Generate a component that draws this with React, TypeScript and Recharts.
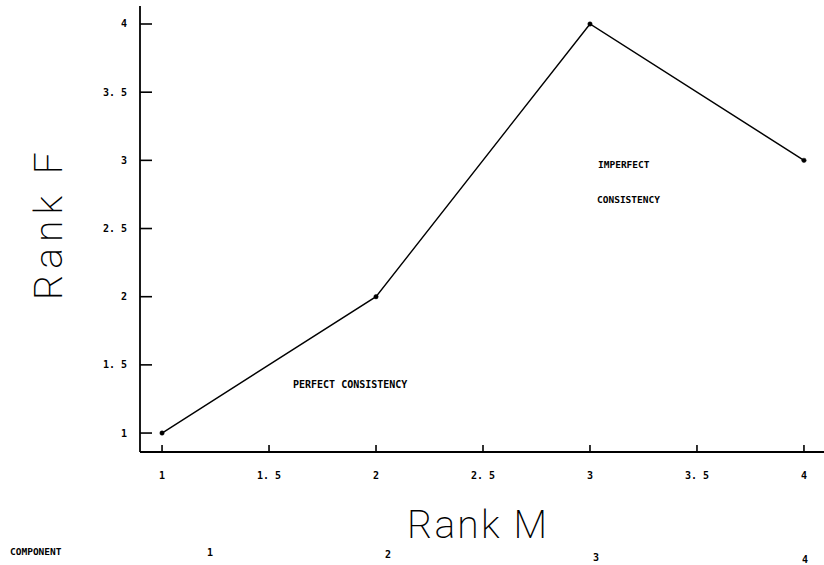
import React from 'react';
import { LineChart, Line, XAxis, YAxis } from 'recharts';

const componentIds = [1, 2, 3, 4];
const rankM = [1, 2, 3, 4];
const rankF = [1, 2, 4, 3];
const xTicks = [1, 1.5, 2, 2.5, 3, 3.5, 4];
const yTicks = [1, 1.5, 2, 2.5, 3, 3.5, 4];
const xTitle = 'Rank M';
const yTitle = 'Rank F';
const rowTitle = 'COMPONENT';
const noteLow = ['PERFECT CONSISTENCY'];
const noteHigh = ['IMPERFECT', 'CONSISTENCY'];

const data = rankM.map((m, i) => ({ m, f: rankF[i] }));

const fmt = (v: number) => String(v).replace('.', '. ');
const LBL = { fontFamily: '"DejaVu Sans Mono", monospace', fontWeight: 700 } as const;
const THIN = { fontFamily: 'Roboto, "DejaVu Sans", sans-serif', fontWeight: 200 } as const;

const BottomTick = (p: any) => (
  <g>
    <line x1={p.x} y1={p.y} x2={p.x} y2={p.y - 7} stroke="#000" strokeWidth={1.6} />
    <text x={p.x} y={p.y + 27} textAnchor="middle" fontSize={10} fill="#000" style={LBL}>
      {fmt(p.payload.value)}
    </text>
  </g>
);
const TopTick = (p: any) => (
  <line x1={p.x} y1={p.y} x2={p.x} y2={p.y + 8} stroke="#000" strokeWidth={1.6} />
);
const LeftTick = (p: any) => (
  <g>
    <line x1={p.x} y1={p.y} x2={p.x + 12} y2={p.y} stroke="#000" strokeWidth={1.6} />
    <text x={p.x - 13} y={p.y + 3.5} textAnchor="end" fontSize={10} fill="#000" style={LBL}>
      {fmt(p.payload.value)}
    </text>
  </g>
);
const RightTick = (p: any) => (
  <line x1={p.x} y1={p.y} x2={p.x - 8} y2={p.y} stroke="#000" strokeWidth={1.6} />
);

const compX = [210, 388, 596, 805];
const compY = [556, 558, 561, 563];

export default function App() {
  return (
    <div style={{ position: 'absolute', left: 0, top: 0, width: 824, height: 565, overflow: 'hidden', background: '#fff' }}>
      <LineChart width={830} height={565} data={data} margin={{ top: 6, right: 4, bottom: 83, left: 80 }}>
        <XAxis
          xAxisId="b"
          dataKey="m"
          type="number"
          domain={[0.897, 4.103]}
          ticks={xTicks}
          allowDataOverflow
          height={30}
          tickSize={0}
          tickMargin={0}
          tickLine={false}
          axisLine={{ stroke: '#000', strokeWidth: 1.8 }}
          tick={<BottomTick />}
          interval={0}
        />
        <XAxis
          xAxisId="t"
          orientation="top"
          type="number"
          domain={[0.897, 4.103]}
          ticks={xTicks}
          allowDataOverflow
          height={0}
          tickSize={0}
          tickMargin={0}
          tickLine={false}
          axisLine={{ stroke: '#000', strokeWidth: 1.8 }}
          tick={<TopTick />}
          interval={0}
        />
        <YAxis
          yAxisId="l"
          type="number"
          domain={[0.861, 4.132]}
          ticks={yTicks}
          allowDataOverflow
          width={60}
          tickSize={0}
          tickMargin={0}
          tickLine={false}
          axisLine={{ stroke: '#000', strokeWidth: 1.8 }}
          tick={<LeftTick />}
          interval={0}
        />
        <YAxis
          yAxisId="r"
          orientation="right"
          type="number"
          domain={[0.861, 4.132]}
          ticks={yTicks}
          allowDataOverflow
          width={0}
          tickSize={0}
          tickMargin={0}
          tickLine={false}
          axisLine={{ stroke: '#000', strokeWidth: 1.8 }}
          tick={<RightTick />}
          interval={0}
        />
        <Line
          xAxisId="b"
          yAxisId="l"
          type="linear"
          dataKey="f"
          stroke="#000"
          strokeWidth={1.4}
          dot={{ r: 2.2, fill: '#000', stroke: '#000', strokeWidth: 0.5 }}
          isAnimationActive={false}
        />
      </LineChart>
      <svg width={824} height={565} style={{ position: 'absolute', left: 0, top: 0, pointerEvents: 'none' }}>
        <text x={62} y={300} transform="rotate(-90 62 300)" fontSize={39} textLength={148} lengthAdjust="spacing" fill="#000" style={THIN}>
          {yTitle}
        </text>
        <text x={407} y={538} fontSize={39} textLength={140} lengthAdjust="spacing" fill="#000" style={THIN}>
          {xTitle}
        </text>
        <text x={10} y={555} fontSize={9.5} fill="#000" style={LBL}>{rowTitle}</text>
        {componentIds.map((c, i) => (
          <text key={c} x={compX[i]} y={compY[i]} textAnchor="middle" fontSize={10} fill="#000" style={LBL}>
            {c}
          </text>
        ))}
        <text x={293} y={388} fontSize={10} fill="#000" style={LBL}>{noteLow[0]}</text>
        <text x={598} y={168} fontSize={9.5} fill="#000" style={LBL}>{noteHigh[0]}</text>
        <text x={597} y={203} fontSize={9.5} fill="#000" style={LBL}>{noteHigh[1]}</text>
      </svg>
    </div>
  );
}
